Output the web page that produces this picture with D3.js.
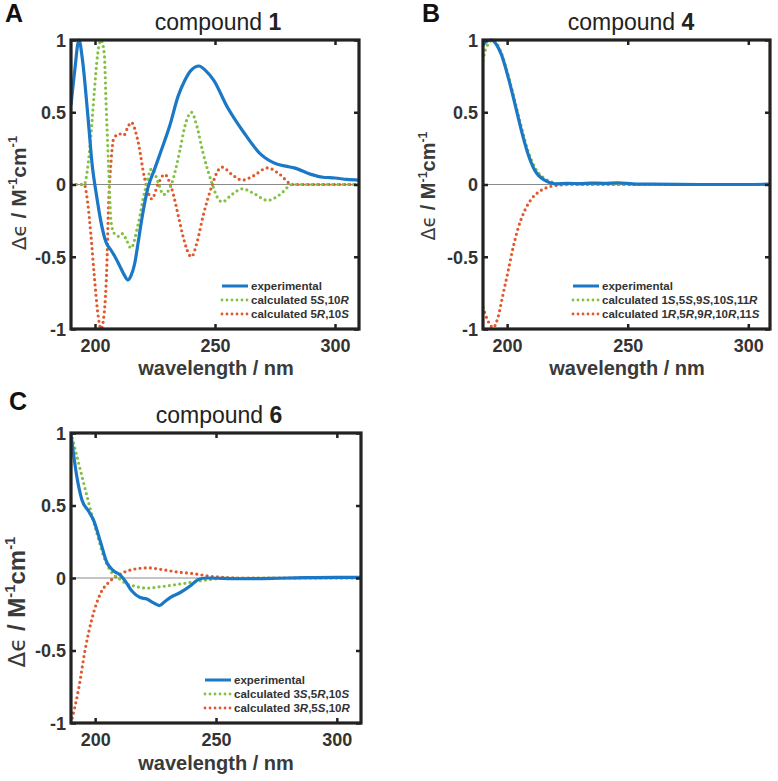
<!DOCTYPE html>
<html>
<head>
<meta charset="utf-8">
<script src="https://cdn.jsdelivr.net/npm/d3@7"></script>
<style>
  html, body { margin: 0; padding: 0; background: #fff; }
  svg { display: block; font-family: "Liberation Sans", Arial, Helvetica, sans-serif; }
</style>
</head>
<body>
<svg id="chart" width="778" height="781"></svg>
<script>
// ---------- DATA ----------
const xTicks = [200, 250, 300];
const yTicks = [-1, -0.5, 0, 0.5, 1];
const yTickLabels = ["-1", "-0.5", "0", "0.5", "1"];

// Panel A — compound 1
const aExpNm  = [190, 191.5, 193.3, 194.8, 196.9, 199, 200.4, 202.5, 204.6, 206.5, 208, 210.2, 212, 213.7, 215, 216.5, 218, 219.3, 222.1, 224.9, 227.7, 231.2, 234.6, 237.4, 240, 243.3, 246, 249.5, 255, 262, 269, 276, 280, 283, 290, 295, 300, 305, 310];
const aExpVal = [0.55, 0.78, 1.0, 0.86, 0.50, 0.11, -0.05, -0.26, -0.40, -0.45, -0.49, -0.56, -0.62, -0.66, -0.63, -0.55, -0.40, -0.26, -0.02, 0.11, 0.24, 0.41, 0.61, 0.72, 0.79, 0.82, 0.79, 0.72, 0.54, 0.36, 0.21, 0.14, 0.125, 0.115, 0.07, 0.05, 0.045, 0.035, 0.03];
const aCalcSNm  = [190, 195.5, 196.9, 198.3, 199.7, 201.1, 202.5, 203.9, 204.6, 205.7, 206.7, 208.1, 210.2, 211.5, 213, 215, 217.9, 220.7, 223.7, 226.2, 228.5, 231.8, 235.3, 237.4, 240.2, 242.5, 245, 248.9, 251, 253, 257, 261.4, 266, 271.9, 277, 282.3, 310];
const aCalcSVal = [0, 0, 0.11, 0.34, 0.64, 0.90, 1.0, 0.90, 0.57, 0.11, -0.26, -0.34, -0.36, -0.34, -0.38, -0.44, -0.28, -0.05, 0.11, 0.02, -0.07, 0.0, 0.23, 0.40, 0.50, 0.40, 0.22, 0.0, -0.09, -0.12, -0.07, -0.03, -0.06, -0.11, -0.07, 0, 0];
const aCalcRNm  = [190, 195.5, 196.9, 198.3, 199.7, 201.1, 202.5, 203.9, 204.9, 205.7, 206.7, 207.8, 210.2, 212, 213.5, 215.1, 217.9, 220.7, 223.7, 226.2, 229, 231.8, 235.3, 236.7, 240.2, 242.5, 245, 248.9, 251, 253, 257, 261.4, 266, 271.9, 277, 282.3, 310];
const aCalcRVal = [0, 0, -0.12, -0.35, -0.63, -0.88, -1.0, -0.88, -0.58, -0.12, 0.16, 0.32, 0.35, 0.34, 0.39, 0.43, 0.30, 0.04, -0.10, 0.0, 0.07, -0.02, -0.26, -0.36, -0.50, -0.40, -0.22, 0, 0.09, 0.12, 0.07, 0.03, 0.06, 0.115, 0.07, 0, 0];

// Panel B — compound 4
const bExpNm  = [190, 191.5, 193.5, 195.5, 197.6, 200.4, 203.2, 205.9, 208.7, 211.5, 215.7, 219.8, 225, 230, 235, 240, 246, 252, 260, 280, 300, 309];
const bExpVal = [0.965, 0.99, 1.0, 0.97, 0.90, 0.745, 0.56, 0.375, 0.21, 0.097, 0.028, 0.005, 0.008, 0.006, 0.01, 0.008, 0.012, 0.005, 0.002, 0, 0, 0.003];
const bCalcSNm  = [190, 191.4, 194.2, 196, 197.6, 200.4, 203.2, 205.9, 208.7, 211.5, 213, 215.7, 219.8, 223, 230, 309];
const bCalcSVal = [0.86, 0.95, 1.0, 0.97, 0.91, 0.76, 0.58, 0.40, 0.23, 0.12, 0.08, 0.04, 0.01, 0.002, 0, 0];
const bCalcRNm  = [190, 192.1, 194.2, 196.2, 198.3, 200.4, 202.5, 204.6, 207.3, 210.1, 213.6, 217, 221.2, 226, 309];
const bCalcRVal = [-0.85, -0.945, -0.99, -0.92, -0.76, -0.60, -0.435, -0.30, -0.18, -0.10, -0.046, -0.018, -0.005, 0, 0];

// Panel C — compound 6
const cExpNm  = [190, 192.4, 194.5, 197.3, 199.3, 202.1, 204.9, 207.6, 210.4, 212.4, 215.2, 218.6, 221.4, 224, 226.6, 229, 231, 235.2, 239.3, 242.7, 246, 260, 280, 300, 310];
const cExpVal = [0.99, 0.70, 0.54, 0.46, 0.40, 0.255, 0.105, 0.05, 0.02, -0.02, -0.09, -0.135, -0.145, -0.17, -0.19, -0.16, -0.135, -0.10, -0.055, -0.01, 0, -0.005, 0, 0.005, 0.005];
const cCalcSNm  = [190, 193.8, 197.3, 200.7, 203.5, 206.3, 210.4, 213, 216, 221.4, 227, 233.8, 240.7, 247.6, 255, 310];
const cCalcSVal = [1.0, 0.75, 0.52, 0.31, 0.15, 0.05, -0.01, -0.04, -0.055, -0.07, -0.06, -0.045, -0.027, -0.01, 0, 0];
const cCalcRNm  = [190, 193.1, 195.9, 198.6, 202.1, 205.6, 209, 213.2, 218.6, 222, 227, 233.8, 240.7, 247.6, 254.5, 260, 310];
const cCalcRVal = [-1.0, -0.77, -0.49, -0.285, -0.11, -0.03, 0.014, 0.048, 0.067, 0.07, 0.06, 0.042, 0.03, 0.012, 0.003, 0, 0];

// ---------- STYLE ----------
const COL_EXP = "#1a78c6";
const COL_S = "#84c043";
const COL_R = "#e0582c";
const INK = "#222";

const svg = d3.select("#chart");

const panels = [
  { letter: "A", lx: 5, ly: 22, num: "1", tx: 218, ty: 30,
    x0: 71, x1: 359, y0: 40, y1: 329, xdom: [190, 310],
    xlx: 216, xly: 375, ylx: 26, yly: 193, ylfs: 21, ylsp: " / ",
    series: [[aExpNm, aExpVal], [aCalcSNm, aCalcSVal], [aCalcRNm, aCalcRVal]],
    leg: { x: 222, y: 286, labels: [[["5"],["S",1],[",10"],["R",1]], [["5"],["R",1],[",10"],["S",1]]] } },
  { letter: "B", lx: 422, ly: 22, num: "4", tx: 631, ty: 30,
    x0: 483, x1: 770, y0: 40, y1: 329, xdom: [190, 309],
    xlx: 627, xly: 375, ylx: 435, yly: 186, ylfs: 20, ylsp: "  /  ",
    series: [[bExpNm, bExpVal], [bCalcSNm, bCalcSVal], [bCalcRNm, bCalcRVal]],
    leg: { x: 573, y: 286, labels: [[["1"],["S",1],[",5"],["S",1],[",9"],["S",1],[",10"],["S",1],[",11"],["R",1]],
                                     [["1"],["R",1],[",5"],["R",1],[",9"],["R",1],[",10"],["R",1],[",11"],["S",1]]] } },
  { letter: "C", lx: 9, ly: 410, num: "6", tx: 219, ty: 423,
    x0: 71, x1: 361, y0: 433, y1: 723, xdom: [190, 310],
    xlx: 216, xly: 770, ylx: 25, yly: 602, ylfs: 24, ylsp: " / ",
    series: [[cExpNm, cExpVal], [cCalcSNm, cCalcSVal], [cCalcRNm, cCalcRVal]],
    leg: { x: 205, y: 680, labels: [[["3"],["S",1],[",5"],["R",1],[",10"],["S",1]], [["3"],["R",1],[",5"],["S",1],[",10"],["R",1]]] } }
];

const styles = [
  { color: COL_EXP, width: 3.2, dash: null, cap: "butt" },
  { color: COL_S, width: 3.2, dash: "0 5.2", cap: "round" },
  { color: COL_R, width: 3.2, dash: "0 5.2", cap: "round" }
];

panels.forEach((p, pi) => {
  const g = svg.append("g");
  const x = d3.scaleLinear().domain(p.xdom).range([p.x0, p.x1]);
  const y = d3.scaleLinear().domain([-1, 1]).range([p.y1, p.y0]);

  // panel letter
  g.append("text").attr("x", p.lx).attr("y", p.ly)
    .attr("font-size", 25).attr("font-weight", "bold").attr("fill", "#111").text(p.letter);

  // title
  const t = g.append("text").attr("x", p.tx).attr("y", p.ty).attr("text-anchor", "middle")
    .attr("font-size", 23).attr("fill", "#222");
  t.append("tspan").text("compound ");
  t.append("tspan").attr("font-weight", "bold").text(p.num);

  // clip
  const clipId = "clip" + pi;
  svg.append("clipPath").attr("id", clipId).append("rect")
    .attr("x", p.x0).attr("y", p.y0 - 2).attr("width", p.x1 - p.x0).attr("height", p.y1 - p.y0 + 4);

  // zero line
  g.append("line").attr("x1", p.x0).attr("x2", p.x1).attr("y1", y(0)).attr("y2", y(0))
    .attr("stroke", "#8a8a8a").attr("stroke-width", 1);

  // series
  const line = d3.line().x(d => x(d[0])).y(d => y(d[1])).curve(d3.curveMonotoneX);
  const order = [2, 1, 0];
  order.forEach(si => {
    const [nm, val] = p.series[si];
    const data = nm.map((n, i) => [n, val[i]]);
    const st = styles[si];
    g.append("path").datum(data).attr("d", line)
      .attr("clip-path", `url(#${clipId})`)
      .attr("fill", "none").attr("stroke", st.color).attr("stroke-width", st.width)
      .attr("stroke-linecap", st.cap).attr("stroke-linejoin", "round")
      .attr("stroke-dasharray", st.dash);
  });

  // axes (ticks inward on all sides)
  const tickLen = 5;
  const bottom = d3.axisBottom(x).tickValues(xTicks).tickSize(-tickLen).tickFormat(d3.format("d")).tickPadding(10);
  const top = d3.axisTop(x).tickValues(xTicks).tickSize(-tickLen).tickFormat("");
  const left = d3.axisLeft(y).tickValues(yTicks).tickSize(-tickLen)
    .tickFormat((d, i) => yTickLabels[yTicks.indexOf(d)]).tickPadding(10);
  const right = d3.axisRight(y).tickValues(yTicks).tickSize(-tickLen).tickFormat("");

  const styleAxis = sel => {
    sel.select(".domain").remove();
    sel.selectAll(".tick line").attr("stroke", INK).attr("stroke-width", 2.5);
    sel.selectAll(".tick text").attr("font-size", 18).attr("font-weight", "bold")
      .attr("fill", "#333").attr("font-family", "Liberation Sans, Arial, sans-serif");
  };
  g.append("g").attr("transform", `translate(0,${p.y1})`).call(bottom).call(styleAxis)
    .selectAll(".tick text").attr("dy", "0").attr("y", 23);
  g.append("g").attr("transform", `translate(0,${p.y0})`).call(top).call(styleAxis);
  g.append("g").attr("transform", `translate(${p.x0},0)`).call(left).call(styleAxis)
    .selectAll(".tick text").attr("x", -5).attr("dy", "0.36em");
  g.append("g").attr("transform", `translate(${p.x1},0)`).call(right).call(styleAxis);

  // frame
  g.append("rect").attr("x", p.x0).attr("y", p.y0).attr("width", p.x1 - p.x0).attr("height", p.y1 - p.y0)
    .attr("fill", "none").attr("stroke", INK).attr("stroke-width", 3.2);

  // x label
  g.append("text").attr("x", p.xlx).attr("y", p.xly).attr("text-anchor", "middle")
    .attr("font-size", 20).attr("font-weight", "bold").attr("fill", "#3a3a3a").text("wavelength / nm");

  // y label
  const fs = p.ylfs;
  const yl = g.append("text").attr("transform", `translate(${p.ylx},${p.yly}) rotate(-90)`)
    .attr("text-anchor", "middle").attr("font-size", fs).attr("fill", "#3a3a3a");
  yl.append("tspan").attr("font-family", "DejaVu Sans, sans-serif").attr("font-size", fs * 0.95).text("\u0394\u03F5");
  yl.append("tspan").attr("font-weight", "bold").text(p.ylsp + "M");
  yl.append("tspan").attr("font-weight", "bold").attr("font-size", fs * 0.62).attr("dy", -fs * 0.42).text("-1");
  yl.append("tspan").attr("font-weight", "bold").attr("dy", fs * 0.42).text("cm");
  yl.append("tspan").attr("font-weight", "bold").attr("font-size", fs * 0.62).attr("dy", -fs * 0.42).text("-1");

  // legend
  const L = p.leg;
  const rows = [["experimental"], ...L.labels];
  rows.forEach((r, ri) => {
    const yy = L.y + ri * 14;
    const st = styles[ri];
    g.append("line").attr("x1", L.x).attr("x2", L.x + 26).attr("y1", yy).attr("y2", yy)
      .attr("stroke", st.color).attr("stroke-width", ri === 0 ? 3 : 2.8)
      .attr("stroke-linecap", st.cap).attr("stroke-dasharray", ri === 0 ? null : "0 5");
    const tx = g.append("text").attr("x", L.x + 29).attr("y", yy + 4)
      .attr("font-size", 11.5).attr("font-weight", "bold").attr("fill", "#333");
    if (ri === 0) {
      tx.text("experimental");
    } else {
      tx.append("tspan").text("calculated ");
      r.forEach(part => {
        const ts = tx.append("tspan").text(part[0]);
        if (part[1]) ts.attr("font-style", "italic");
      });
    }
  });
});
</script>
</body>
</html>
